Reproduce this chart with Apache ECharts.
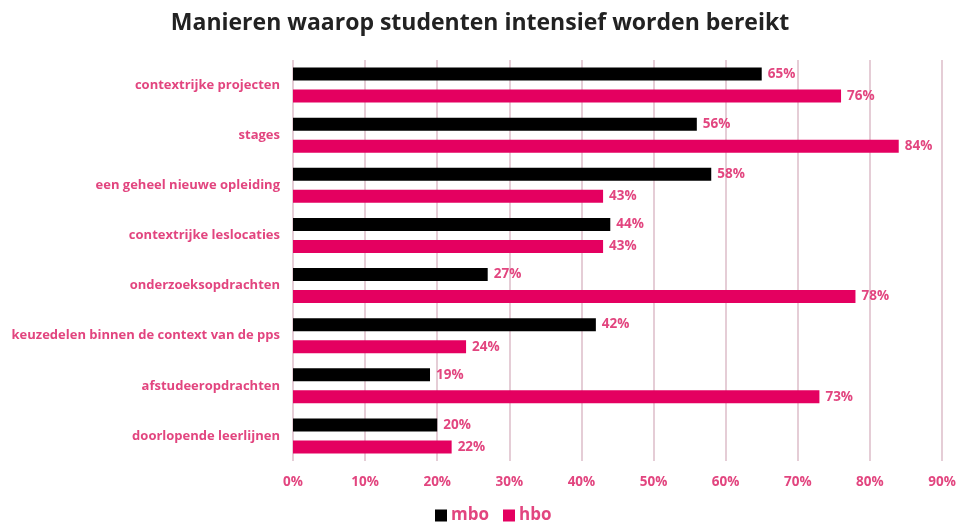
<!DOCTYPE html>
<html>
<head>
<meta charset="utf-8">
<script src="https://cdn.jsdelivr.net/npm/echarts@6/dist/echarts.min.js"></script>
<style>
  html, body { margin: 0; padding: 0; background: #fff; }
  #chart { width: 960px; height: 523px; }
</style>
</head>
<body>
<div id="chart"></div>
<script>
// categorieën (van boven naar beneden)
const categories = [
  'contextrijke projecten',
  'stages',
  'een geheel nieuwe opleiding',
  'contextrijke leslocaties',
  'onderzoeksopdrachten',
  'keuzedelen binnen de context van de pps',
  'afstudeeropdrachten',
  'doorlopende leerlijnen'
];
const mboValues = [65, 56, 58, 44, 27, 42, 19, 20];
const hboValues = [76, 84, 43, 43, 78, 24, 73, 22];
const seriesNames = ['mbo', 'hbo'];

const pink = '#e2457f';
const fontFamily = '"Open Sans", Lato, sans-serif';

const chart = echarts.init(document.getElementById('chart'));

const labelStyle = {
  show: true,
  position: 'right',
  distance: 6,
  formatter: p => p.value + '%',
  color: pink,
  fontWeight: 'bold',
  fontSize: 13.5,
  fontFamily: fontFamily
};

chart.setOption({
  animation: false,
  title: {
    text: 'Manieren waarop studenten intensief worden bereikt',
    left: 'center',
    top: 7,
    textStyle: { color: '#222', fontSize: 23, fontWeight: 'bold', fontFamily: fontFamily }
  },
  legend: {
    top: 502,
    left: 430,
    itemWidth: 12,
    itemHeight: 12,
    itemGap: 14,
    icon: 'rect',
    textStyle: { color: pink, fontSize: 17, fontWeight: 'bold', fontFamily: fontFamily, padding: [0, 0, 0, -1] },
    data: seriesNames
  },
  grid: { left: 293, right: 18, top: 60, bottom: 62 },
  xAxis: {
    type: 'value',
    min: 0,
    max: 90,
    interval: 10,
    axisLine: { show: false },
    axisTick: { show: false },
    axisLabel: {
      formatter: v => v + '%',
      color: pink,
      fontSize: 13.5,
      fontWeight: 'bold',
      fontFamily: fontFamily,
      margin: 14
    },
    splitLine: { show: true, lineStyle: { color: '#dcbcc9', width: 1.5 } }
  },
  yAxis: {
    type: 'category',
    inverse: true,
    data: categories,
    axisLine: { show: false },
    axisTick: { show: false },
    axisLabel: {
      color: pink,
      fontSize: 13,
      fontWeight: 'bold',
      fontFamily: fontFamily,
      margin: 13
    }
  },
  series: [
    {
      name: seriesNames[0],
      type: 'bar',
      data: mboValues,
      barWidth: 13,
      barGap: '70%',
      itemStyle: { color: '#000' },
      label: labelStyle
    },
    {
      name: seriesNames[1],
      type: 'bar',
      data: hboValues,
      barWidth: 13,
      barGap: '70%',
      itemStyle: { color: '#e40060' },
      label: labelStyle
    }
  ]
});
</script>
</body>
</html>
